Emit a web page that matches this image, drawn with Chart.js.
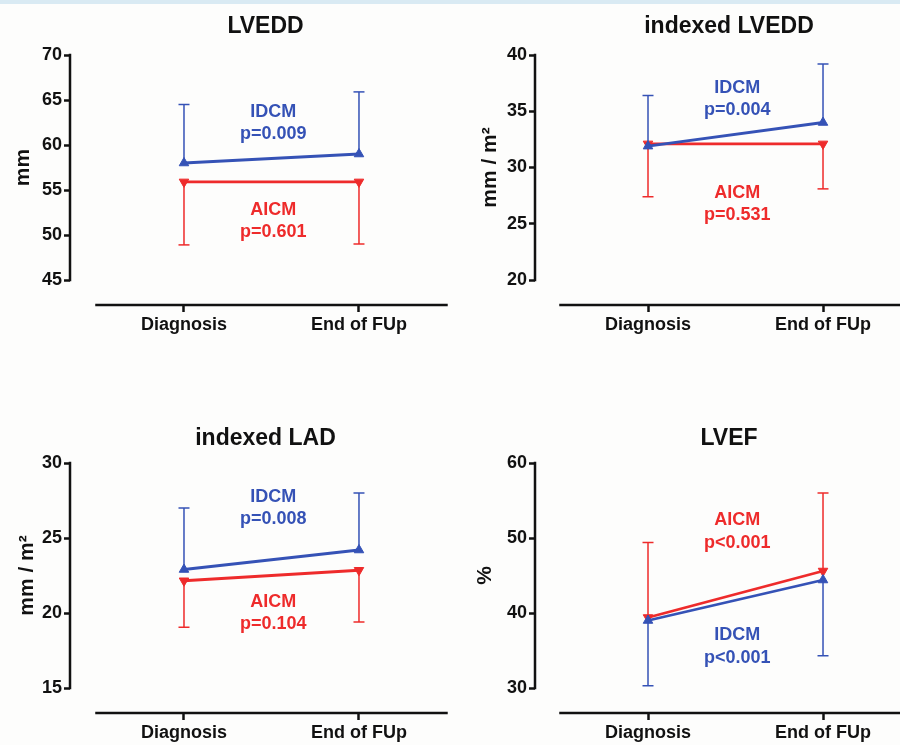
<!DOCTYPE html>
<html>
<head>
<meta charset="utf-8">
<script src="https://cdn.jsdelivr.net/npm/chart.js@4.4.1/dist/chart.umd.min.js"></script>
<style>
  html, body { margin: 0; padding: 0; background: #fdfdfc; overflow: hidden; }
  #wrap { position: relative; width: 900px; height: 745px; overflow: hidden; }
  #band { position: absolute; left: 0; top: 0; width: 900px; height: 4px; background: #d9eaf3; }
  canvas { position: absolute; }
</style>
</head>
<body>
<div id="wrap">
  <div id="band"></div>
  <canvas id="lvedd" width="531" height="370" style="left:0;top:0"></canvas>
  <canvas id="ilvedd" width="558" height="370" style="left:450px;top:0"></canvas>
  <canvas id="ilad" width="531" height="375" style="left:0;top:370px"></canvas>
  <canvas id="lvef" width="558" height="375" style="left:450px;top:370px"></canvas>
</div>
<script>
'use strict';

var timepoints = ['Diagnosis', 'End of FUp'];

// LVEDD (mm) - IDCM bars go up, AICM bars go down
var lveddTicks = [45, 50, 55, 60, 65, 70];
var lveddIdcm = [58.0, 59.0];
var lveddIdcmBar = [64.5, 65.9];
var lveddAicm = [55.9, 55.9];
var lveddAicmBar = [48.9, 49.0];

// indexed LVEDD (mm / m2)
var ilveddTicks = [20, 25, 30, 35, 40];
var ilveddIdcm = [31.9, 34.0];
var ilveddIdcmBar = [36.4, 39.2];
var ilveddAicm = [32.1, 32.1];
var ilveddAicmBar = [27.4, 28.1];

// indexed LAD (mm / m2)
var iladTicks = [15, 20, 25, 30];
var iladIdcm = [22.9, 24.2];
var iladIdcmBar = [27.0, 28.0];
var iladAicm = [22.15, 22.85];
var iladAicmBar = [19.05, 19.4];

// LVEF (%) - here AICM bars go up, IDCM bars go down
var lvefTicks = [30, 40, 50, 60];
var lvefIdcm = [39.0, 44.4];
var lvefIdcmBar = [30.3, 34.3];
var lvefAicm = [39.4, 45.6];
var lvefAicmBar = [49.4, 56.0];

var BLUE = '#3552b6';
var RED = '#ee2b2b';
var INK = '#111111';
var FONT = '"Liberation Sans", Arial, sans-serif';

// axis line is 225px tall, x axis sits 25px under it (Prism style)
var AXIS_PX = 225, GAP_PX = 25;

var panels = [
    {
        id: 'lvedd', title: 'LVEDD', yTitle: 'mm', ticks: lveddTicks,
        idcm: lveddIdcm, idcmBar: lveddIdcmBar, aicm: lveddAicm, aicmBar: lveddAicmBar,
        notes: [
            {text: 'IDCM', y: 63.7, color: BLUE}, {text: 'p=0.009', y: 61.2, color: BLUE},
            {text: 'AICM', y: 52.8, color: RED}, {text: 'p=0.601', y: 50.3, color: RED}
        ],
        titleTop: 13, titleBottom: 14.4, xAxisH: 65, yAxisW: 70, yTitlePad: 11,
        xMin: -0.6514, xMax: 1.983
    },
    {
        id: 'ilvedd', title: 'indexed LVEDD', yTitle: 'mm / m²', ticks: ilveddTicks,
        idcm: ilveddIdcm, idcmBar: ilveddIdcmBar, aicm: ilveddAicm, aicmBar: ilveddAicmBar,
        notes: [
            {text: 'IDCM', y: 37.1, color: BLUE}, {text: 'p=0.004', y: 35.1, color: BLUE},
            {text: 'AICM', y: 27.7, color: RED}, {text: 'p=0.531', y: 25.8, color: RED}
        ],
        titleTop: 13, titleBottom: 14.4, xAxisH: 65, yAxisW: 85, yTitlePad: 28,
        xMin: -0.6457, xMax: 2.057
    },
    {
        id: 'ilad', title: 'indexed LAD', yTitle: 'mm / m²', ticks: iladTicks,
        idcm: iladIdcm, idcmBar: iladIdcmBar, aicm: iladAicm, aicmBar: iladAicmBar,
        notes: [
            {text: 'IDCM', y: 27.75, color: BLUE}, {text: 'p=0.008', y: 26.27, color: BLUE},
            {text: 'AICM', y: 20.75, color: RED}, {text: 'p=0.104', y: 19.27, color: RED}
        ],
        titleTop: 55.2, titleBottom: 10.2, xAxisH: 32, yAxisW: 70, yTitlePad: 15,
        xMin: -0.6514, xMax: 1.983
    },
    {
        id: 'lvef', title: 'LVEF', yTitle: '%', ticks: lvefTicks,
        idcm: lvefIdcm, idcmBar: lvefIdcmBar, aicm: lvefAicm, aicmBar: lvefAicmBar,
        notes: [
            {text: 'AICM', y: 52.4, color: RED}, {text: 'p<0.001', y: 49.3, color: RED},
            {text: 'IDCM', y: 37.1, color: BLUE}, {text: 'p<0.001', y: 34.0, color: BLUE}
        ],
        titleTop: 55.2, titleBottom: 10.2, xAxisH: 32, yAxisW: 85, yTitlePad: 23,
        xMin: -0.6457, xMax: 2.057
    }
];

//mean points for one group
function meanPoints(values) {
    return values.map(function(v, i) { return {x: i, y: v}; });
}

//one-sided error bars: stem from the mean to the bar end, a cap at the end
function barPoints(means, ends) {
    var pts = [];
    for (var i = 0; i < means.length; i++) {
        if (i > 0) pts.push({x: i, y: null});
        pts.push({x: i, y: means[i]});
        pts.push({x: i, y: ends[i], cap: true});
    }
    return pts;
}

function capRadius(ctx) {
    return ctx.raw && ctx.raw.cap ? 5.5 : 0;
}

function makePanel(p) {
    var last = p.ticks[p.ticks.length - 1];
    var first = p.ticks[0];
    var yFloor = first - (last - first) * GAP_PX / AXIS_PX;

    //draws the detached Prism style axis lines
    var axisLines = {
        id: 'axisLines',
        afterLayout: function(chart) {
            // centre the y title on the drawn axis line, not on the whole plot height
            var s = chart.scales.y;
            s.top = s.getPixelForValue(last);
            s.bottom = s.getPixelForValue(first);
        },
        afterDraw: function(chart) {
            var ctx = chart.ctx, xs = chart.scales.x, ys = chart.scales.y, area = chart.chartArea;
            ctx.save();
            ctx.strokeStyle = INK;
            ctx.lineWidth = 2.5;
            ctx.lineCap = 'square';
            ctx.beginPath();
            ctx.moveTo(area.left, ys.getPixelForValue(first));
            ctx.lineTo(area.left, ys.getPixelForValue(last));
            ctx.moveTo(xs.getPixelForValue(-0.5), area.bottom);
            ctx.lineTo(xs.getPixelForValue(1.5), area.bottom);
            ctx.stroke();
            ctx.restore();
        }
    };

    //group names and p values
    var notes = {
        id: 'notes',
        afterDatasetsDraw: function(chart) {
            var ctx = chart.ctx, xs = chart.scales.x, ys = chart.scales.y;
            ctx.save();
            ctx.font = 'bold 18px ' + FONT;
            ctx.textAlign = 'center';
            ctx.textBaseline = 'middle';
            p.notes.forEach(function(n) {
                ctx.fillStyle = n.color;
                ctx.fillText(n.text, xs.getPixelForValue(0.51), ys.getPixelForValue(n.y));
            });
            ctx.restore();
        }
    };

    var datasets = [
        {
            label: 'IDCM', data: meanPoints(p.idcm), order: 0,
            borderColor: BLUE, backgroundColor: BLUE, borderWidth: 2.8,
            pointStyle: 'triangle', pointRadius: 5.5, pointBorderWidth: 1,
            pointBackgroundColor: BLUE, pointBorderColor: BLUE
        },
        {
            label: 'IDCM bars', data: barPoints(p.idcm, p.idcmBar), order: 1,
            borderColor: BLUE, borderWidth: 1.5, spanGaps: false,
            pointStyle: 'line', pointRadius: capRadius, pointBorderWidth: 1.5, pointBorderColor: BLUE
        },
        {
            label: 'AICM', data: meanPoints(p.aicm), order: 2,
            borderColor: RED, backgroundColor: RED, borderWidth: 2.8,
            pointStyle: 'triangle', pointRotation: 180, pointRadius: 5.5, pointBorderWidth: 1,
            pointBackgroundColor: RED, pointBorderColor: RED
        },
        {
            label: 'AICM bars', data: barPoints(p.aicm, p.aicmBar), order: 3,
            borderColor: RED, borderWidth: 1.5, spanGaps: false,
            pointStyle: 'line', pointRadius: capRadius, pointBorderWidth: 1.5, pointBorderColor: RED
        }
    ];

    new Chart(document.getElementById(p.id), {
        type: 'line',
        data: {datasets: datasets},
        plugins: [axisLines, notes],
        options: {
            responsive: false,
            animation: false,
            devicePixelRatio: 1,
            layout: {padding: 0, autoPadding: false},
            plugins: {
                legend: {display: false},
                tooltip: {enabled: false},
                title: {
                    display: true, text: p.title, color: INK,
                    font: {family: FONT, size: 23, weight: 'bold'},
                    padding: {top: p.titleTop, bottom: p.titleBottom}
                }
            },
            scales: {
                x: {
                    type: 'linear', min: p.xMin, max: p.xMax,
                    afterBuildTicks: function(s) {
                        s.ticks = timepoints.map(function(t, i) { return {value: i}; });
                    },
                    afterFit: function(s) { s.height = p.xAxisH; },
                    border: {display: false},
                    grid: {drawOnChartArea: false, tickLength: 7, tickWidth: 2.5, tickColor: INK},
                    ticks: {
                        color: INK, padding: 2, maxRotation: 0, autoSkip: false,
                        font: {family: FONT, size: 18, weight: 'bold'},
                        callback: function(v) { return timepoints[v]; }
                    }
                },
                y: {
                    min: yFloor, max: last,
                    afterBuildTicks: function(s) {
                        s.ticks = p.ticks.map(function(v) { return {value: v}; });
                    },
                    afterFit: function(s) { s.width = p.yAxisW; },
                    border: {display: false},
                    grid: {drawOnChartArea: false, tickLength: 6, tickWidth: 2.5, tickColor: INK},
                    ticks: {color: INK, padding: 2, font: {family: FONT, size: 18, weight: 'bold'}},
                    title: {
                        display: true, text: p.yTitle, color: INK,
                        font: {family: FONT, size: 21, weight: 'bold'},
                        padding: {top: p.yTitlePad, bottom: 0}
                    }
                }
            }
        }
    });
}

panels.forEach(makePanel);
</script>
</body>
</html>
